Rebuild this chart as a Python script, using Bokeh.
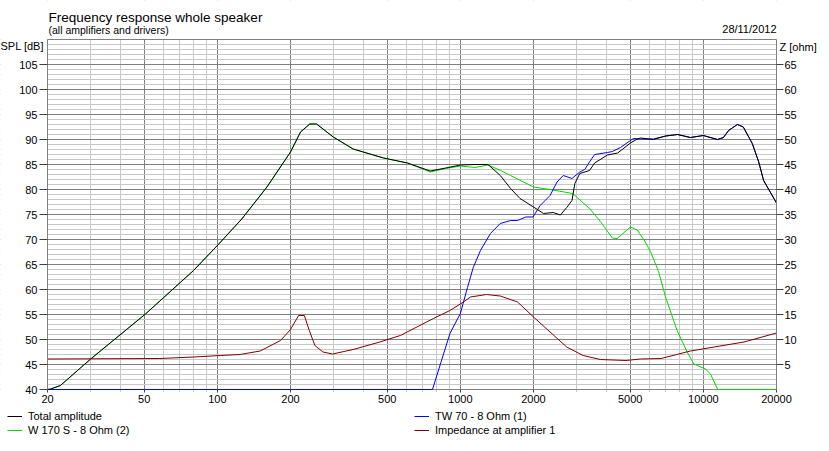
from bokeh.plotting import figure
from bokeh.models import (Range1d, LinearAxis, FixedTicker, Legend, LegendItem, Label,
                          BoxAnnotation)
from bokeh.embed import file_html
from bokeh.resources import INLINE

FONT = "Liberation Sans"

# ---------------- data ----------------
freq_ticks = [20, 50, 100, 200, 500, 1000, 2000, 5000, 10000, 20000]
freq_minor = [30, 40, 60, 70, 80, 90, 300, 400, 600, 700, 800, 900,
              3000, 4000, 6000, 7000, 8000, 9000]
spl_ticks = [40, 45, 50, 55, 60, 65, 70, 75, 80, 85, 90, 95, 100, 105, 110]
spl_minor = [v for v in range(41, 110) if v % 5 != 0]
z_ticks = [5, 10, 15, 20, 25, 30, 35, 40, 45, 50, 55, 60, 65]

total_f = [20, 20.6, 22.6, 30.1, 50.6, 79.8, 100, 126, 160, 200, 220, 240, 256, 300,
           362, 483, 606, 752, 870, 1000, 1150, 1300, 1460, 1610, 1760, 2000, 2200,
           2410, 2580, 2740, 2880, 2960, 3100, 3400, 3570, 4030, 4440, 5010, 5350,
           5510, 6230, 7000, 7830, 8850, 10000, 11430, 12100, 12700, 13800, 14600,
           15900, 16900, 17700, 20000]
total_db = [40, 40.1, 40.8, 46.1, 55.1, 63.8, 68.8, 74.1, 80.5, 87.5, 91.5, 93.1, 93.1,
            90.5, 88.1, 86.3, 85.3, 83.7, 84.3, 84.9, 85.0, 85.0, 82.8, 80.2, 78.2,
            76.5, 75.2, 75.4, 74.9, 76.4, 77.8, 81.2, 83.2, 83.8, 85.3, 86.9, 87.3,
            89.3, 90.1, 90.3, 90.0, 90.7, 91.0, 90.4, 90.8, 90.0, 90.4, 91.8, 93.0,
            92.5, 89.2, 85.5, 81.8, 77.3]

woofer_f = [20, 20.6, 22.6, 30.1, 50.6, 79.8, 100, 126, 160, 200, 220, 240, 256, 300,
            362, 483, 606, 752, 870, 1000, 1150, 1300, 1464, 1610, 2000, 2340, 2900,
            3400, 3770, 4220, 4420, 5010, 5350, 5700, 6060, 6540, 6990, 7800, 8580,
            9140, 10200, 10700, 11460, 20000]
woofer_db = [40, 40.1, 40.8, 46.1, 55.1, 63.8, 68.8, 74.1, 80.5, 87.5, 91.5, 93.1, 93.1,
             90.5, 88.1, 86.3, 85.3, 83.5, 84.2, 84.7, 84.4, 84.9, 83.8, 82.8, 80.5,
             80.0, 79.2, 76.2, 73.6, 70.3, 70.2, 72.5, 71.9, 69.9, 67.6, 63.6, 58.5,
             51.8, 47.5, 45.1, 44.1, 43.1, 40, 40]

tweeter_f = [20, 768, 906, 1000, 1070, 1130, 1210, 1330, 1460, 1610, 1720, 1860, 1990,
             2130, 2340, 2500, 2650, 2880, 3100, 3250, 3400, 3570, 4030, 4220, 4560,
             5150, 5510, 6230, 7000, 7830, 8850, 10000, 11430, 12100, 12700, 13800,
             14600, 15900, 16900, 17700, 20000]
tweeter_db = [40, 40, 51.2, 55.2, 60.4, 64.4, 67.8, 71.2, 73.2, 73.8, 73.8, 74.5, 74.5,
              76.8, 78.8, 81.5, 82.8, 82.2, 83.5, 84.0, 85.5, 87.0, 87.4, 87.6, 88.4,
              90.2, 90.1, 90.1, 90.7, 91.0, 90.4, 90.8, 90.0, 90.4, 91.8, 93.0, 92.5,
              89.2, 85.5, 81.8, 77.3]

imp_f = [20, 58, 80, 103, 124, 150, 182, 200, 216, 228, 239, 252, 272, 298, 362, 466,
         566, 775, 906, 1030, 1100, 1280, 1460, 1720, 2000, 2340, 2740, 3200, 3770,
         4800, 5510, 6700, 8850, 14700, 20000]
imp_ohm = [6.1, 6.2, 6.5, 6.8, 7.0, 7.7, 9.8, 12.0, 14.8, 14.8, 11.8, 8.8, 7.5, 7.1,
           8.0, 9.5, 10.8, 14.2, 15.8, 17.5, 18.5, 19.0, 18.7, 17.5, 14.5, 11.5, 8.5,
           6.8, 6.0, 5.8, 6.1, 6.2, 7.7, 9.5, 11.3]

title_text = "Frequency response whole speaker"
subtitle_text = "(all amplifiers and drivers)"
date_text = "28/11/2012"
spl_label = "SPL [dB]"
z_label = "Z [ohm]"

F_MIN, F_MAX = 20, 20000        # plotted frequency span
DB_MIN, DB_MAX = 40, 110        # plotted SPL span
Z_OFFSET = 40                   # impedance axis: Z = SPL - 40

# ---------------- canvas geometry (pixels) ----------------
W, H = 829, 451
PX_LEFT, PX_RIGHT = 47, 776     # plot box edges
PX_TOP, PX_BOTTOM = 39, 389
px_per_decade = (PX_RIGHT - PX_LEFT) / 3.0
px_per_db = (PX_BOTTOM - PX_TOP) / float(DB_MAX - DB_MIN)

x_lo = F_MIN / 10 ** (PX_LEFT / px_per_decade)
x_hi = F_MAX * 10 ** ((W - PX_RIGHT) / px_per_decade)
y_hi = DB_MAX + PX_TOP / px_per_db
y_lo = DB_MIN - (H - PX_BOTTOM) / px_per_db

def at(px, py):
    """pixel position on the canvas -> data position"""
    return x_lo * 10 ** (px / px_per_decade), y_hi - py / px_per_db

# The frame covers the whole canvas; axes sit at fixed data locations.
p = figure(width=W, height=H, x_axis_type="log",
           x_range=Range1d(x_lo, x_hi), y_range=Range1d(y_lo, y_hi),
           output_backend="svg", toolbar_location=None, title=None,
           min_border=0, min_border_left=0, min_border_right=0,
           min_border_top=0, min_border_bottom=0)
p.background_fill_color = "white"
p.border_fill_color = "white"
p.outline_line_color = None
p.extra_y_ranges = {"z": Range1d(y_lo - Z_OFFSET, y_hi - Z_OFFSET)}

p.xgrid.ticker = FixedTicker(ticks=freq_ticks, minor_ticks=freq_minor)
p.ygrid.ticker = FixedTicker(ticks=spl_ticks, minor_ticks=spl_minor)
for g in (p.xgrid[0], p.ygrid[0]):
    g.grid_line_color = "#808080"
    g.grid_line_width = 1
    g.minor_grid_line_color = "#c8c8c8"
    g.minor_grid_line_width = 1

# white masks outside the plot box (hide grid overhang)
for kw in (dict(top=DB_MIN - 0.5), dict(bottom=DB_MAX + 0.1),
           dict(right=F_MIN), dict(left=F_MAX)):
    p.add_layout(BoxAnnotation(fill_color="white", fill_alpha=1, line_color=None,
                               level="glyph", **kw))

def style_axis(ax, tick_out, standoff, size="11px"):
    ax.major_tick_in = 0
    ax.major_tick_out = tick_out
    ax.minor_tick_in = 0
    ax.minor_tick_out = 0
    ax.major_tick_line_color = "#404040"
    ax.major_label_standoff = standoff
    ax.major_label_text_font = FONT
    ax.major_label_text_font_size = size
    ax.major_label_text_color = "black"

xa = p.xaxis[0]
xa.ticker = FixedTicker(ticks=freq_ticks, minor_ticks=freq_minor)
xa.major_label_overrides = {t: str(t) for t in freq_ticks}
xa.fixed_location = DB_MIN
xa.bounds = (F_MIN, F_MAX)
xa.axis_line_color = None
style_axis(xa, 3, 2)

ya = p.yaxis[0]
ya.ticker = FixedTicker(ticks=spl_ticks[:-1], minor_ticks=[])
ya.fixed_location = F_MIN
ya.bounds = (DB_MIN, DB_MAX)
ya.axis_line_color = "#808080"
style_axis(ya, 8, 2)

za = LinearAxis(y_range_name="z", ticker=FixedTicker(ticks=z_ticks, minor_ticks=[]),
                fixed_location=F_MAX, bounds=(DB_MIN - Z_OFFSET, DB_MAX - Z_OFFSET))
za.axis_line_color = "#808080"
style_axis(za, 7, 1)
p.add_layout(za, "right")

r_woofer = p.line(woofer_f, woofer_db, line_color="#00d800", line_width=1)
r_tweeter = p.line(tweeter_f, tweeter_db, line_color="#0000ff", line_width=1)
r_total = p.line(total_f, total_db, line_color="black", line_width=1)
r_imp = p.line(imp_f, imp_ohm, line_color="#800000", line_width=1, y_range_name="z")

# texts
def lab(px, py, text, size="11px", align="left"):
    x, y = at(px, py)
    p.add_layout(Label(x=x, y=y, text=text, text_font=FONT, text_font_size=size,
                       text_color="black", text_align=align,
                       text_baseline="alphabetic"))

lab(48, 17.3, title_text, size="13.5px")
lab(48, 29.5, subtitle_text, size="10.5px")
lab(776, 28.3, date_text, size="11px", align="right")
lab(0, 45.7, spl_label, size="11px")
lab(779, 46.7, z_label, size="11px")

# legend: two columns under the x axis (screen px from bottom-left)
def make_legend(items, x):
    p.add_layout(Legend(items=items, location=(x, H - 437), orientation="vertical",
                        padding=0, margin=0, spacing=0, glyph_width=15,
                        glyph_height=14, label_height=14, label_standoff=6,
                        label_text_font=FONT, label_text_font_size="11px",
                        label_text_color="black",
                        border_line_color=None, background_fill_alpha=0))

make_legend([LegendItem(label="Total amplitude", renderers=[r_total]),
             LegendItem(label="W 170 S - 8 Ohm (2)", renderers=[r_woofer])], 7)
make_legend([LegendItem(label="TW 70 - 8 Ohm (1)", renderers=[r_tweeter]),
             LegendItem(label="Impedance at amplifier 1", renderers=[r_imp])], 414)

open("out.html", "w").write(file_html(p, INLINE))
